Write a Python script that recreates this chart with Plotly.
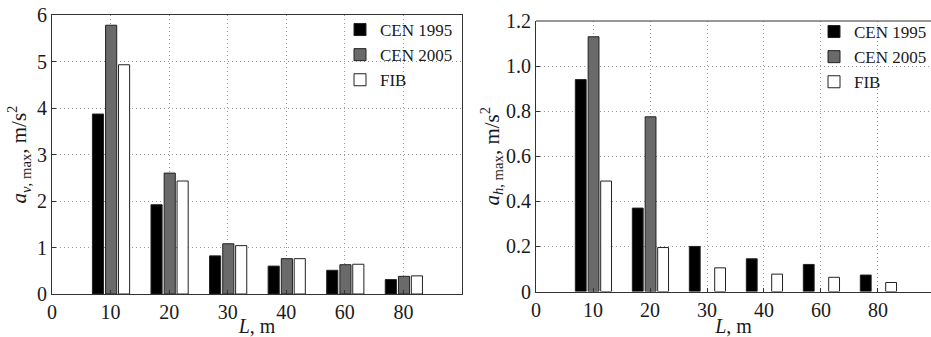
import plotly.graph_objects as go

# ---- data ----
span_labels = ["0", "10", "20", "30", "40", "60", "80"]
span_L = [10, 20, 30, 40, 60, 80]
series_names = ["CEN 1995", "CEN 2005", "FIB"]

av_cen1995 = [3.87, 1.92, 0.82, 0.60, 0.51, 0.31]
av_cen2005 = [5.78, 2.60, 1.08, 0.76, 0.63, 0.38]
av_fib = [4.93, 2.43, 1.04, 0.76, 0.64, 0.39]

ah_cen1995 = [0.94, 0.37, 0.20, 0.145, 0.12, 0.073]
ah_cen2005 = [1.13, 0.775, None, None, None, None]
ah_fib = [0.49, 0.195, 0.105, 0.077, 0.063, 0.040]

left_yticks = [0, 1, 2, 3, 4, 5, 6]
right_yticks = [0, 0.2, 0.4, 0.6, 0.8, 1.0, 1.2]
right_yticklabels = ["0", "0.2", "0.4", "0.6", "0.8", "1.0", "1.2"]

# ---- style ----
W, H = 931, 337
colors = ["#000000", "#6a6a6a", "#ffffff"]
bar_w = 0.19
offsets = [-0.31, -0.085, 0.135]
FONT = "Liberation Serif"
TXT = "#1a1a1a"

xpos = [span_labels.index(str(v)) for v in span_L]

fig = go.Figure()
for i, (name, vals) in enumerate(zip(series_names, [av_cen1995, av_cen2005, av_fib])):
    fig.add_trace(go.Bar(
        x=xpos, y=vals, name=name, width=bar_w, offset=offsets[i],
        marker=dict(color=colors[i], line=dict(color="#222222", width=1)),
        xaxis="x", yaxis="y", legend="legend", showlegend=True))
for i, (name, vals) in enumerate(zip(series_names, [ah_cen1995, ah_cen2005, ah_fib])):
    fig.add_trace(go.Bar(
        x=xpos, y=vals, name=name, width=bar_w, offset=offsets[i],
        marker=dict(color=colors[i], line=dict(color="#222222", width=1)),
        xaxis="x2", yaxis="y2", legend="legend2", showlegend=True))

def px_x(p):
    return p / W

def px_y(p):
    return 1 - p / H

grid = dict(showgrid=True, gridcolor="#9a9a9a", griddash="1px,3px", gridwidth=1)
axis_common = dict(showline=True, linecolor="#333333", linewidth=1, ticks="inside",
                   ticklen=4, tickcolor="#333333", zeroline=False, automargin=False,
                   tickfont=dict(family=FONT, size=20, color=TXT), **grid)

x_common = dict(axis_common, tickmode="array", tickvals=list(range(len(span_labels))),
                ticktext=span_labels,
                title=dict(text="<i>L</i>, m", font=dict(family=FONT, size=20, color=TXT),
                           standoff=0))

fig.update_layout(
    width=W, height=H,
    margin=dict(l=0, r=0, t=0, b=0, autoexpand=False),
    paper_bgcolor="white", plot_bgcolor="white",
    barmode="overlay",
    font=dict(family=FONT, color=TXT),
    xaxis=dict(x_common, domain=[px_x(52), px_x(462)], range=[0, 7], mirror=True, anchor="y"),
    yaxis=dict(axis_common, domain=[px_y(294), px_y(15)], range=[0, 6], mirror=True,
               tickmode="array", tickvals=left_yticks, anchor="x",
               title=dict(text="<i>a</i><sub><i>v</i>, max</sub>, m/s<sup>2</sup>",
                          font=dict(family=FONT, size=21, color=TXT), standoff=4)),
    xaxis2=dict(x_common, domain=[px_x(536), 1], range=[0, 6.93], mirror=False, anchor="y2"),
    yaxis2=dict(axis_common, domain=[px_y(291.5), px_y(21)], range=[0, 1.2], mirror=False,
                tickmode="array", tickvals=right_yticks, ticktext=right_yticklabels, anchor="x2",
                title=dict(text="<i>a</i><sub><i>h</i>, max</sub>, m/s<sup>2</sup>",
                           font=dict(family=FONT, size=21, color=TXT), standoff=0)),
    legend=dict(x=px_x(340), y=px_y(12), xanchor="left", yanchor="top",
                bgcolor="rgba(255,255,255,0)", tracegroupgap=0, itemwidth=30,
                font=dict(family=FONT, size=17, color=TXT)),
    legend2=dict(x=px_x(814), y=px_y(14), xanchor="left", yanchor="top",
                 bgcolor="rgba(255,255,255,0)", tracegroupgap=0, itemwidth=30,
                 font=dict(family=FONT, size=17, color=TXT)),
)

# top spine for the right chart (cut off at the right edge)
fig.update_layout(shapes=[dict(type="line", xref="x2 domain", yref="y2 domain",
                               x0=0, x1=1, y0=1, y1=1,
                               line=dict(color="#333333", width=1))])

fig.write_html("out.html", config={"displayModeBar": False},
               post_script="document.body.style.margin='0';")
